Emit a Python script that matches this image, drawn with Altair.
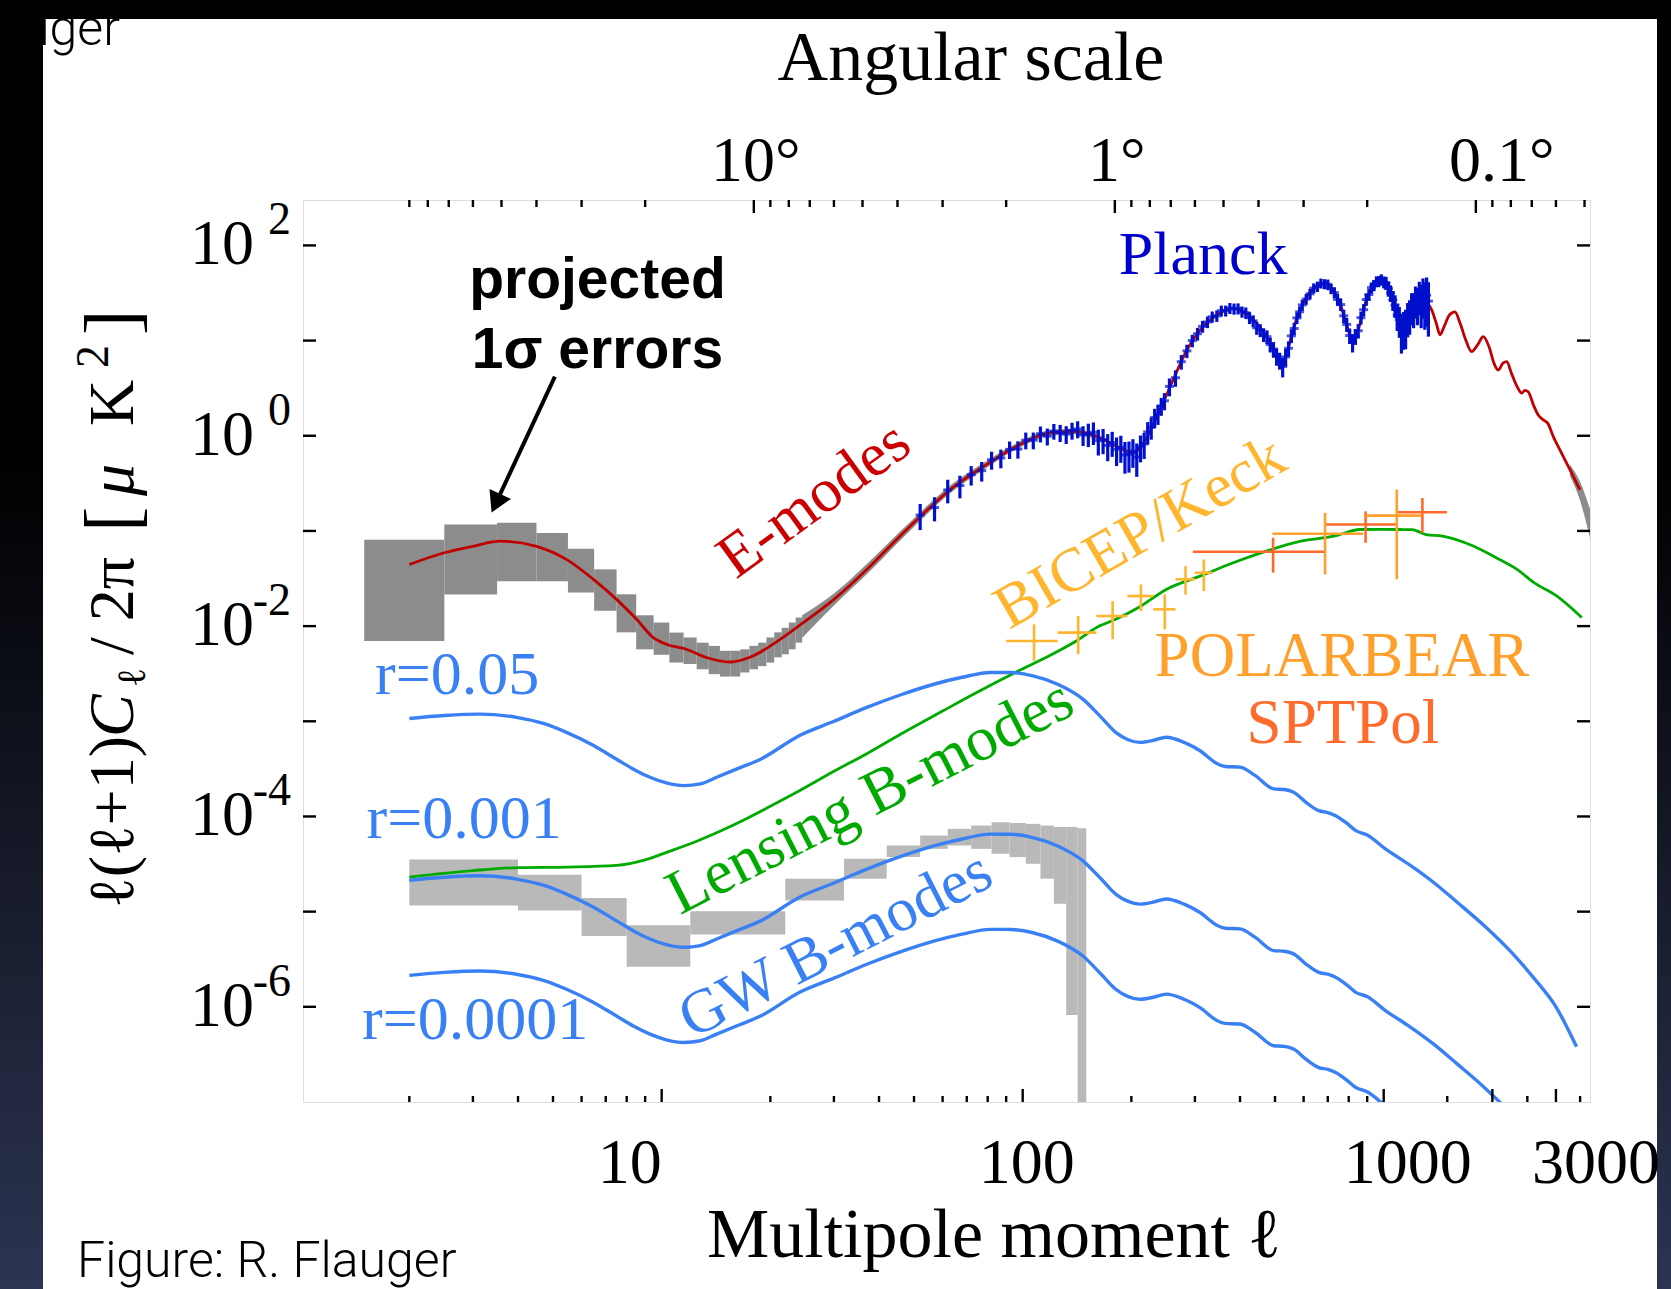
import altair as alt
import pandas as pd

# ---------------- data ----------------
# E-mode theory spectrum  l(l+1)C_l/2pi [uK^2]
ee_ell = [2, 2.5, 3, 3.57, 4.5, 5.46, 6.47, 7.5, 8.52, 9.48, 10.3, 11.7, 13.3, 15.5, 17.9, 21.3, 24.2, 30, 37,
          45.7, 51, 63, 78, 96, 119, 138, 164, 186, 203, 216, 240, 261, 285, 310, 345, 383, 426, 474, 516,
          525, 540, 560, 586, 620, 650, 688, 720, 757, 790, 824, 850, 897, 940, 988, 1030, 1063, 1100, 1133,
          1170, 1208, 1250, 1288, 1320, 1358, 1400, 1432, 1470, 1520, 1575, 1630, 1690, 1753, 1820, 1888,
          1960, 2020, 2077, 2140, 2192, 2260, 2340, 2411, 2460, 2513, 2600, 2680, 2767, 2850, 2950, 3077,
          3280, 3497]
ee_val = [0.0444, 0.059, 0.069, 0.078, 0.069, 0.050, 0.031, 0.0191, 0.0118, 0.00757, 0.00645, 0.00571,
          0.00468, 0.0042, 0.00486, 0.00727, 0.0103, 0.0191, 0.0394, 0.088, 0.132, 0.272, 0.477, 0.773,
          1.07, 1.11, 0.95, 0.74, 0.66, 0.84, 1.87, 3.86, 7.97, 12.9, 18.6, 21.8, 17.8, 11.0, 6.0, 5.5,
          7.5, 12.5, 20.9, 31, 37, 39.9, 35, 24.5, 14.5, 9.7, 13, 27, 38, 43, 36, 27, 17, 14, 16.5, 21,
          25.5, 27, 25, 21, 15, 11.5, 14, 18.5, 20, 15, 10, 7.65, 9, 11, 8.5, 5.8, 4.9, 5.8, 6.0, 4.5,
          3.3, 2.8, 3.0, 2.9, 2.1, 1.65, 1.47, 1.35, 0.98, 0.71, 0.44, 0.27]

# projected 1-sigma E-mode errors: one box per multipole for l = 2..24
eb_ell = list(range(2, 25))
eb_lo = [0.00698, 0.0215, 0.0296, 0.0296, 0.0225, 0.0145, 0.0086, 0.0057, 0.0050, 0.00414, 0.0040,
         0.00352, 0.00313, 0.00295, 0.00295, 0.00326, 0.00352, 0.0038, 0.00414, 0.0047, 0.00506,
         0.0057, 0.0067]
eb_hi = [0.081, 0.117, 0.122, 0.0954, 0.065, 0.0395, 0.0216, 0.0130, 0.0109, 0.00855, 0.0076, 0.0067,
         0.0062, 0.0055, 0.0055, 0.0057, 0.0062, 0.0067, 0.0076, 0.0086, 0.0096, 0.0109, 0.0123]
# continuous part of the E-mode error band
eband_ell = [24.5, 30, 37, 45.7, 51, 63, 78, 96, 119, 138, 164]
eband_lo = [0.0075, 0.0165, 0.035, 0.079, 0.119, 0.25, 0.44, 0.72, 1.0, 1.04, 0.89]
eband_hi = [0.0130, 0.0220, 0.045, 0.098, 0.146, 0.30, 0.52, 0.83, 1.14, 1.18, 1.01]
etail_ell = [3280, 3497, 3728]
etail_lo = [0.38, 0.21, 0.085]
etail_hi = [0.50, 0.33, 0.17]

# projected 1-sigma B-mode errors (bandpowers)
bb_l0 = [2, 4, 6, 8, 12, 22, 32, 42, 52, 62, 72, 82, 92, 102, 112, 122, 132, 142]
bb_l1 = [4, 6, 8, 12, 22, 32, 42, 52, 62, 72, 82, 92, 102, 112, 122, 132, 142, 150]
bb_lo = [1.16e-5, 1.03e-5, 5.56e-6, 2.63e-6, 5.74e-6, 1.31e-5, 2.22e-5, 3.74e-5, 4.57e-5, 4.95e-5,
         4.57e-5, 4.06e-5, 3.74e-5, 3.18e-5, 2.22e-5, 1.21e-5, 8.2e-7, 1e-9]
bb_hi = [3.53e-5, 2.44e-5, 1.39e-5, 7.19e-6, 1.01e-5, 2.22e-5, 3.6e-5, 4.95e-5, 6.3e-5, 7.41e-5,
         8.03e-5, 8.7e-5, 8.55e-5, 8.36e-5, 8.03e-5, 7.73e-5, 7.73e-5, 7.5e-5]

# lensing B-modes
lens_ell = [2, 3, 4, 5.5, 7.5, 9, 10.5, 12.5, 14.5, 17, 20, 24, 30, 37, 46, 60, 75, 96, 120, 140, 163,
            181, 210, 250, 310, 383, 473, 589, 728, 860, 980, 1109, 1200, 1309, 1456, 1637, 1777, 2094,
            2350, 2607, 3000, 3537]
lens_val = [2.31e-5, 2.7e-5, 2.9e-5, 2.94e-5, 3.06e-5, 3.5e-5, 4.3e-5, 5.5e-5, 7.0e-5, 9.3e-5, 1.28e-4,
            1.85e-4, 2.98e-4, 4.57e-4, 7.35e-4, 1.28e-3, 2.03e-3, 3.3e-3, 5.0e-3, 6.9e-3, 0.0100, 0.0118,
            0.0158, 0.0243, 0.0335, 0.0463, 0.0613, 0.078, 0.088, 0.1035, 0.104, 0.1035, 0.103, 0.0917,
            0.088, 0.078, 0.069, 0.050, 0.039, 0.0286, 0.021, 0.0123]

# primordial (gravitational-wave) B-modes
gw_ell = [2, 2.5, 3.14, 3.96, 4.7, 5.45, 6.4, 7.5, 8.4, 9.28, 10.3, 11.5, 12.8, 14.2, 16.3, 18.8, 24.1,
          30, 37, 46, 56.7, 68, 81.4, 93, 106.8, 125, 146.8, 165, 181, 196, 211, 230, 250, 280, 310,
          345, 364, 400, 440, 496, 530, 563, 610, 661, 700, 736, 790, 837, 900, 1011, 1180, 1370, 1600,
          1893, 2250, 2607, 3000, 3422]
gw_r005 = [1.07e-3, 1.15e-3, 1.19e-3, 1.10e-3, 9.5e-4, 7.65e-4, 5.7e-4, 4.0e-4, 3.1e-4, 2.58e-4,
           2.25e-4, 2.11e-4, 2.2e-4, 2.58e-4, 3.2e-4, 4.0e-4, 7.1e-4, 1.0e-3, 1.40e-3, 1.9e-3, 2.45e-3,
           2.9e-3, 3.26e-3, 3.25e-3, 3.0e-3, 2.45e-3, 1.71e-3, 1.1e-3, 7.65e-4, 6.4e-4, 6.0e-4, 6.3e-4,
           6.8e-4, 6.0e-4, 4.9e-4, 3.6e-4, 3.35e-4, 3.3e-4, 2.7e-4, 1.95e-4, 1.92e-4, 1.8e-4, 1.4e-4,
           1.15e-4, 1.1e-4, 1.02e-4, 8.5e-5, 7.1e-5, 6.4e-5, 4.57e-5, 3.1e-5, 2.05e-5, 1.25e-5, 7.2e-6,
           3.8e-6, 2.0e-6, 1.0e-6, 3.8e-7]
gw_r0001 = [2.14e-5, 2.3e-5, 2.38e-5, 2.2e-5, 1.9e-5, 1.53e-5, 1.14e-5, 8.0e-6, 6.2e-6, 5.16e-6, 4.5e-6,
            4.22e-6, 4.4e-6, 5.16e-6, 6.4e-6, 8.0e-6, 1.42e-5, 2.0e-5, 2.8e-5, 3.8e-5, 4.9e-5, 5.8e-5,
            6.52e-5, 6.5e-5, 6.0e-5, 4.9e-5, 3.42e-5, 2.2e-5, 1.53e-5, 1.28e-5, 1.2e-5, 1.26e-5, 1.36e-5,
            1.2e-5, 9.8e-6, 7.2e-6, 6.7e-6, 6.6e-6, 5.4e-6, 3.9e-6, 3.84e-6, 3.6e-6, 2.8e-6, 2.3e-6,
            2.2e-6, 2.04e-6, 1.7e-6, 1.42e-6, 1.28e-6, 9.14e-7, 6.2e-7, 4.1e-7, 2.5e-7, 1.44e-7, 7.6e-8,
            4.0e-8, 2.0e-8, 7.6e-9]
gw_r00001 = [2.14e-6, 2.3e-6, 2.38e-6, 2.2e-6, 1.9e-6, 1.53e-6, 1.14e-6, 8.0e-7, 6.2e-7, 5.16e-7,
             4.5e-7, 4.22e-7, 4.4e-7, 5.16e-7, 6.4e-7, 8.0e-7, 1.42e-6, 2.0e-6, 2.8e-6, 3.8e-6, 4.9e-6,
             5.8e-6, 6.52e-6, 6.5e-6, 6.0e-6, 4.9e-6, 3.42e-6, 2.2e-6, 1.53e-6, 1.28e-6, 1.2e-6, 1.26e-6,
             1.36e-6, 1.2e-6, 9.8e-7, 7.2e-7, 6.7e-7, 6.6e-7, 5.4e-7, 3.9e-7, 3.84e-7, 3.6e-7, 2.8e-7,
             2.3e-7, 2.2e-7, 2.04e-7, 1.7e-7, 1.42e-7, 1.28e-7, 9.14e-8, 6.2e-8, 4.1e-8, 2.5e-8, 1.44e-8,
             7.6e-9, 4.0e-9, 2.0e-9, 7.6e-10]

# Planck EE bandpowers
pl_ell = [52, 57, 62, 67, 72, 77, 82, 87, 92, 97, 102, 107, 112, 117, 122, 127, 132, 137, 142, 147,
          152, 157, 162, 167, 172, 177, 182, 187, 192, 197, 202, 207, 212, 217, 222, 227, 232, 237, 242, 247,
          255, 265, 275, 285, 295, 305, 315, 325, 335, 345, 355, 365, 375, 385, 395, 405, 415, 425, 435,
          445, 455, 465, 475, 485, 495, 505, 515, 525, 535, 545, 555, 565, 575, 585, 595,
          610, 625, 640, 655, 670, 685, 700, 715, 730, 745, 760, 775, 790, 805, 820, 835, 850, 865, 880,
          895, 910, 925, 940, 955, 970, 985, 1000, 1015, 1030, 1045, 1060, 1075, 1090, 1105, 1120, 1135,
          1150, 1165, 1180, 1195, 1210, 1225, 1240, 1255, 1270, 1285, 1300, 1315, 1330]
pl_val = [0.147, 0.176, 0.27, 0.30, 0.39, 0.43, 0.56, 0.585, 0.72, 0.725, 0.90, 0.90, 1.05, 0.99, 1.12,
          1.08, 1.04, 1.14, 1.18, 1.02,
          1.05, 1.09, 0.89, 0.91, 0.79, 0.85, 0.72, 0.76, 0.63, 0.64, 0.69, 0.60, 0.765, 0.82, 1.10, 1.23,
          1.56, 1.70, 2.06, 2.33,
          3.3, 4.07, 6.0, 7.8, 10.0, 11.8, 14.1, 15.7, 17.8, 18.2, 20.6, 20.6, 21.9, 21.6, 21.7, 20.1, 19.6,
          17.4, 16.1, 13.6, 12.85, 11.55, 11.0, 9.1, 8.15, 6.85, 6.2, 5.35, 6.75, 8.3, 11.2, 13.4, 17.3,
          20.1, 23.7,
          27.3, 31.0, 35.6, 37.0, 40.0, 39.4, 39.0, 35.0, 32.0, 27.0, 23.9, 18.2, 14.8, 11.3, 9.6, 11.1,
          12.7, 17.4, 21.1, 27.0, 30.5, 36.0, 38.0, 41.8, 42.0, 43.8, 41.3, 40.5, 35.2, 31.8, 26.8, 23.6,
          18.5, 16.6, 13.2, 14.0, 14.6, 17.8, 19.0, 23.0, 22.5, 27.0, 25.0, 30.0, 26.0, 31.0, 27.0, 30.0, 26.0]
pl_err = [0.045, 0.05, 0.075, 0.08, 0.09, 0.1, 0.12, 0.13, 0.15, 0.15, 0.18, 0.18, 0.2, 0.2, 0.21,
          0.22, 0.22, 0.23, 0.24, 0.24,
          0.29, 0.29, 0.27, 0.27, 0.25, 0.25, 0.24, 0.24, 0.23, 0.23, 0.23, 0.23, 0.24, 0.25, 0.29, 0.32,
          0.36, 0.4, 0.44, 0.48,
          0.7, 0.8, 1.05, 1.25, 1.5, 1.8, 2.0, 2.2, 2.4, 2.5, 2.7, 2.7, 2.9, 2.9, 2.9, 2.7, 2.7, 2.5, 2.3,
          2.1, 2.0, 1.9, 1.8, 1.6, 1.5, 1.4, 1.25, 1.25, 1.4, 1.5, 1.8, 2.0, 2.4, 2.7, 3.1,
          3.5, 3.9, 4.3, 4.6, 4.8, 4.8, 4.8, 4.3, 4.2, 3.8, 3.5, 2.9, 2.5, 2.1, 2.1, 2.1, 2.2, 2.7, 3.1,
          3.8, 4.2, 4.8, 5.0, 5.5, 5.6, 5.9, 5.9, 6.3, 6.3, 6.3, 6.3, 6.3, 5.9, 5.9, 5.9, 6.0, 6.5, 7.0,
          7.5, 8.5, 9.0, 10.0, 10.5, 11.5, 12.5, 14.0, 14.0, 16.0, 15.0]

# BICEP/Keck, POLARBEAR and SPTPol B-mode bandpowers
bk_ell = [107.5, 142.5, 177.5, 212.5, 247.5, 282.5, 317.5]
bk_l0 = [90, 125, 160, 195, 230, 265, 300]
bk_l1 = [125, 160, 195, 230, 265, 300, 335]
bk_val = [6.98e-3, 8.55e-3, 0.01276, 0.0207, 0.0150, 0.0310, 0.0364]
bk_lo = [4.31e-3, 5.06e-3, 7.27e-3, 0.0144, 9.25e-3, 0.0215, 0.0233]
bk_hi = [0.01045, 0.01276, 0.01833, 0.0274, 0.0215, 0.0427, 0.0501]

pb_ell = [688, 1087]
pb_l0 = [492, 891]
pb_l1 = [878, 1273]
pb_val = [0.0933, 0.145]
pb_lo = [0.0349, 0.031]
pb_hi = [0.155, 0.272]

sp_ell = [494, 891, 1280]
sp_l0 = [296, 688, 1087]
sp_l1 = [688, 1087, 1497]
sp_val = [0.0604, 0.117, 0.157]
sp_lo = [0.0364, 0.075, 0.0955]
sp_hi = [0.0847, 0.161, 0.222]

# axis ticks and tick labels
x_major = [10, 100, 1000, 2000, 3000]
x_minor = [2, 3, 4, 5, 6, 7, 8, 9, 20, 30, 40, 50, 60, 70, 80, 90,
           200, 300, 400, 500, 600, 700, 800, 900, 1500, 2500, 3500]
theta_major = [10, 1, 0.1]
theta_minor = [90, 80, 70, 60, 50, 40, 30, 20, 9, 8, 7, 6, 5, 4, 3, 2,
               0.9, 0.8, 0.7, 0.6, 0.5, 0.4, 0.3, 0.2, 0.09, 0.08, 0.07, 0.06, 0.05]
y_decades = [1e2, 1e1, 1e0, 1e-1, 1e-2, 1e-3, 1e-4, 1e-5, 1e-6]
y_labels = [1e2, 1e0, 1e-2, 1e-4, 1e-6]
y_exponents = ["2", "0", "-2", "-4", "-6"]

# ---------------- chart ----------------
W, H = 1287, 902
SERIF = "Liberation Serif"
xs = alt.Scale(type="log", domain=[1.015, 3728], nice=False)
ys = alt.Scale(type="log", domain=[1e-7, 300], nice=False)


def X(f="ell", **kw):
    return alt.X(f"{f}:Q", scale=xs, axis=None, **kw)


def Y(f="val", **kw):
    return alt.Y(f"{f}:Q", scale=ys, axis=None, **kw)


one = pd.DataFrame({"k": [0]})


def ptext(text, x, y, **kw):
    return alt.Chart(one).mark_text(text=text, **kw).encode(x=alt.value(x), y=alt.value(y))


def dtext(text, ell, val, **kw):
    d = pd.DataFrame({"ell": [ell], "val": [val]})
    return alt.Chart(d).mark_text(text=text, **kw).encode(x=X(), y=Y())


layers = []

# page decoration: black top bar, dark side bands and the figure credit
shade = alt.Gradient(gradient="linear", x1=0, x2=0, y1=0, y2=1,
                     stops=[alt.GradientStop(color="#000000", offset=0),
                            alt.GradientStop(color="#000000", offset=0.35),
                            alt.GradientStop(color="#2c3452", offset=1)])
layers.append(ptext("uger", 120 - 303, 45 - 200, align="right", baseline="alphabetic",
                    font="Roboto", fontWeight=300, fontSize=50, color="black"))
layers.append(alt.Chart(one).mark_rect(fill=shade).encode(
    x=alt.value(-303), x2=alt.value(-260), y=alt.value(-200), y2=alt.value(H + 187)))
layers.append(alt.Chart(one).mark_rect(fill=shade).encode(
    x=alt.value(1657 - 303), x2=alt.value(W + 81), y=alt.value(-200), y2=alt.value(H + 187)))
layers.append(alt.Chart(one).mark_rect(fill="#000000").encode(
    x=alt.value(-303), x2=alt.value(W + 81), y=alt.value(-200), y2=alt.value(19 - 200)))
layers.append(ptext("Figure: R. Flauger", 77 - 303, 1277 - 200, align="left", baseline="alphabetic",
                    font="Roboto", fontWeight=300, fontSize=50, color="black"))

# error boxes
eb = pd.DataFrame({"ell": eb_ell, "lo": eb_lo, "hi": eb_hi})
eb["l0"] = eb["ell"] - 0.5
eb["l1"] = eb["ell"] + 0.5
layers.append(alt.Chart(eb).mark_rect(color="#8c8c8c", clip=True).encode(
    x=X("l0"), x2="l1:Q", y=Y("lo"), y2="hi:Q"))
band = pd.concat([
    pd.DataFrame({"ell": eband_ell, "lo": eband_lo, "hi": eband_hi, "seg": "a"}),
    pd.DataFrame({"ell": etail_ell, "lo": etail_lo, "hi": etail_hi, "seg": "b"}),
])
layers.append(alt.Chart(band).mark_area(color="#8c8c8c", clip=True, interpolate="monotone").encode(
    x=X(), y=Y("lo"), y2="hi:Q", detail="seg:N"))
bb = pd.DataFrame({"l0": bb_l0, "l1": bb_l1, "lo": bb_lo, "hi": bb_hi})
layers.append(alt.Chart(bb).mark_rect(color="#b9b9b9", clip=True).encode(
    x=X("l0"), x2="l1:Q", y=Y("lo"), y2="hi:Q"))

# theory curves
layers.append(alt.Chart(pd.DataFrame({"ell": lens_ell, "val": lens_val})).mark_line(
    color="#00aa00", strokeWidth=2.8, clip=True, interpolate="monotone").encode(x=X(), y=Y()))
gw = pd.concat([
    pd.DataFrame({"ell": gw_ell, "val": gw_r005, "r": "0.05"}),
    pd.DataFrame({"ell": gw_ell, "val": gw_r0001, "r": "0.001"}),
    pd.DataFrame({"ell": gw_ell, "val": gw_r00001, "r": "0.0001"}),
])
layers.append(alt.Chart(gw).mark_line(color="#3a80f5", strokeWidth=3.4, clip=True,
                                      interpolate="monotone").encode(x=X(), y=Y(), detail="r:N"))
layers.append(alt.Chart(pd.DataFrame({"ell": ee_ell, "val": ee_val})).mark_line(
    color="#c00000", strokeWidth=2.8, clip=True, interpolate="monotone").encode(x=X(), y=Y()))

# Planck data
pl = pd.DataFrame({"ell": pl_ell, "val": pl_val, "err": pl_err})
pl["lo"] = pl["val"] - pl["err"]
pl["hi"] = pl["val"] + pl["err"]
layers.append(alt.Chart(pl).mark_rule(color="#0010cc", strokeWidth=3.2, clip=True).encode(
    x=X(), y=Y("lo"), y2="hi:Q"))
layers.append(alt.Chart(pl).mark_tick(color="#0010cc", orient="horizontal", size=9, thickness=3,
                                      clip=True).encode(x=X(), y=Y()))


# small-scale B-mode measurements
def crosses(ell, l0, l1, val, lo, hi, color):
    d = pd.DataFrame({"ell": ell, "l0": l0, "l1": l1, "val": val, "lo": lo, "hi": hi})
    h = alt.Chart(d).mark_rule(color=color, strokeWidth=2.6, clip=True).encode(
        x=X("l0"), x2="l1:Q", y=Y())
    v = alt.Chart(d).mark_rule(color=color, strokeWidth=2.6, clip=True).encode(
        x=X(), y=Y("lo"), y2="hi:Q")
    return [h, v]


layers += crosses(bk_ell, bk_l0, bk_l1, bk_val, bk_lo, bk_hi, "#ffb52e")
layers += crosses(sp_ell, sp_l0, sp_l1, sp_val, sp_lo, sp_hi, "#ff6a2b")
layers += crosses(pb_ell, pb_l0, pb_l1, pb_val, pb_lo, pb_hi, "#ffa02c")

# annotations
layers.append(dtext("Planck", 316, 49.9, font=SERIF, fontSize=62, color="#0000cc",
                    align="center", baseline="alphabetic"))
layers.append(dtext("E-modes", 26.4, 0.2134, font=SERIF, fontSize=62, color="#cc0000",
                    align="center", baseline="middle", angle=324))
layers.append(dtext("BICEP/Keck", 211.3, 0.0962, font=SERIF, fontSize=62, color="#ffb52e",
                    align="center", baseline="middle", angle=330))
layers.append(dtext("POLARBEAR", 766, 2.98e-3, font=SERIF, fontSize=63, color="#ffa02c",
                    align="center", baseline="alphabetic"))
layers.append(dtext("SPTPol", 771, 5.9e-4, font=SERIF, fontSize=63, color="#ff6b2c",
                    align="center", baseline="alphabetic"))
layers.append(dtext("Lensing B-modes", 37.8, 1.6e-4, font=SERIF, fontSize=63, color="#00aa00",
                    align="center", baseline="middle", angle=333))
layers.append(dtext("GW B-modes", 30.3, 4.51e-6, font=SERIF, fontSize=62, color="#3a80f5",
                    align="center", baseline="middle", angle=333))
layers.append(dtext("r=0.05", 1.607, 1.93e-3, font=SERIF, fontSize=62, color="#3a80f5",
                    align="left", baseline="alphabetic"))
layers.append(dtext("r=0.001", 1.522, 6.0e-5, font=SERIF, fontSize=62, color="#3a80f5",
                    align="left", baseline="alphabetic"))
layers.append(dtext("r=0.0001", 1.479, 4.55e-7, font=SERIF, fontSize=62, color="#3a80f5",
                    align="left", baseline="alphabetic"))
layers.append(dtext("projected", 6.64, 27.96, font="Liberation Sans", fontWeight="bold",
                    fontSize=57, color="black", align="center", baseline="alphabetic"))
layers.append(dtext("1σ errors", 6.64, 5.16, font="Liberation Sans", fontWeight="bold",
                    fontSize=57, color="black", align="center", baseline="alphabetic"))
arrow = pd.DataFrame({"ell": [5.06], "val": [4.18], "ell2": [3.474], "val2": [0.1956]})
layers.append(alt.Chart(arrow).mark_rule(color="black", strokeWidth=4).encode(
    x=X(), y=Y(), x2="ell2:Q", y2="val2:Q"))
layers.append(alt.Chart(arrow).mark_point(shape="triangle-down", filled=True, color="black",
                                          size=560, angle=25, opacity=1).encode(
    x=X("ell2"), y=Y("val2")))

# tick labels, placed through the scales
lab_kw = dict(font=SERIF, fontSize=64, color="black", baseline="alphabetic")
for val, txt, align, dx in [(10, "10", "right", 0), (100, "100", "center", 4),
                            (1000, "1000", "center", 24), (3000, "3000", "center", 40)]:
    layers.append(alt.Chart(pd.DataFrame({"ell": [val]})).mark_text(
        text=txt, align=align, dx=dx, **lab_kw).encode(x=X(), y=alt.value(983)))
for theta, txt, dx in [(10, "10°", 2), (1, "1°", 2), (0.1, "0.1°", 26)]:
    layers.append(alt.Chart(pd.DataFrame({"ell": [180.0 / theta]})).mark_text(
        text=txt, align="center", dx=dx, **lab_kw).encode(x=X(), y=alt.value(-19)))
ylab = pd.DataFrame({"val": y_labels, "t": y_exponents})
layers.append(alt.Chart(ylab).mark_text(text="10", font=SERIF, fontSize=64, color="black",
                                        align="right", baseline="middle").encode(
    x=alt.value(-49), y=Y()))
layers.append(alt.Chart(ylab).mark_text(font=SERIF, fontSize=46, color="black", align="right",
                                        baseline="middle", dy=-25).encode(
    x=alt.value(-12), y=Y(), text="t:N"))

# inward ticks on all four sides
tick_kw = dict(color="black", strokeWidth=2.4)
xmaj = pd.DataFrame({"ell": x_major})
xmin = pd.DataFrame({"ell": x_minor})
layers.append(alt.Chart(xmaj).mark_rule(**tick_kw).encode(x=X(), y=alt.value(H), y2=alt.value(H - 13)))
layers.append(alt.Chart(xmin).mark_rule(**tick_kw).encode(x=X(), y=alt.value(H), y2=alt.value(H - 6)))
tmaj = pd.DataFrame({"theta": theta_major})
tmaj["ell"] = 180.0 / tmaj["theta"]
tmin = pd.DataFrame({"theta": theta_minor})
tmin["ell"] = 180.0 / tmin["theta"]
layers.append(alt.Chart(tmaj).mark_rule(**tick_kw).encode(x=X(), y=alt.value(0), y2=alt.value(13)))
layers.append(alt.Chart(tmin).mark_rule(**tick_kw).encode(x=X(), y=alt.value(0), y2=alt.value(7)))
ydec = pd.DataFrame({"val": y_decades})
layers.append(alt.Chart(ydec).mark_rule(**tick_kw).encode(y=Y(), x=alt.value(0), x2=alt.value(13)))
layers.append(alt.Chart(ydec).mark_rule(**tick_kw).encode(y=Y(), x=alt.value(W), x2=alt.value(W - 13)))

# axis titles
layers.append(ptext("Multipole moment ℓ", 994 - 303, 1257 - 200, font=SERIF, fontSize=70,
                    color="black", align="center", baseline="alphabetic"))
layers.append(ptext("Angular scale", 971 - 303, 80 - 200, font=SERIF, fontSize=70,
                    color="black", align="center", baseline="alphabetic"))
yt = dict(font=SERIF, color="black", angle=270, align="left", baseline="alphabetic")
layers.append(ptext("ℓ(ℓ+1)", 133 - 303, 908 - 200, fontSize=64, **yt))
layers.append(ptext("C", 133 - 303, 737 - 200, fontSize=64, fontStyle="italic", **yt))
layers.append(ptext("ℓ", 145 - 303, 687 - 200, fontSize=40, **yt))
layers.append(ptext("/ 2π", 133 - 303, 655 - 200, fontSize=64, **yt))
layers.append(ptext("[", 137 - 303, 532 - 200, fontSize=76, **yt))
layers.append(ptext("μ", 133 - 303, 496 - 200, fontSize=64, fontStyle="italic", **yt))
layers.append(ptext("K", 133 - 303, 426 - 200, fontSize=64, **yt))
layers.append(ptext("2", 108 - 303, 368 - 200, fontSize=46, **yt))
layers.append(ptext("]", 137 - 303, 335 - 200, fontSize=76, **yt))

chart = alt.layer(*layers).properties(
    width=W, height=H,
    padding={"left": 303, "top": 200, "right": 81, "bottom": 187},
    autosize=alt.AutoSizeParams(type="none"),
).configure_view(stroke="black", strokeWidth=2.5).configure(background="white")

chart.save("out.html", embed_options={"renderer": "svg", "actions": False})
